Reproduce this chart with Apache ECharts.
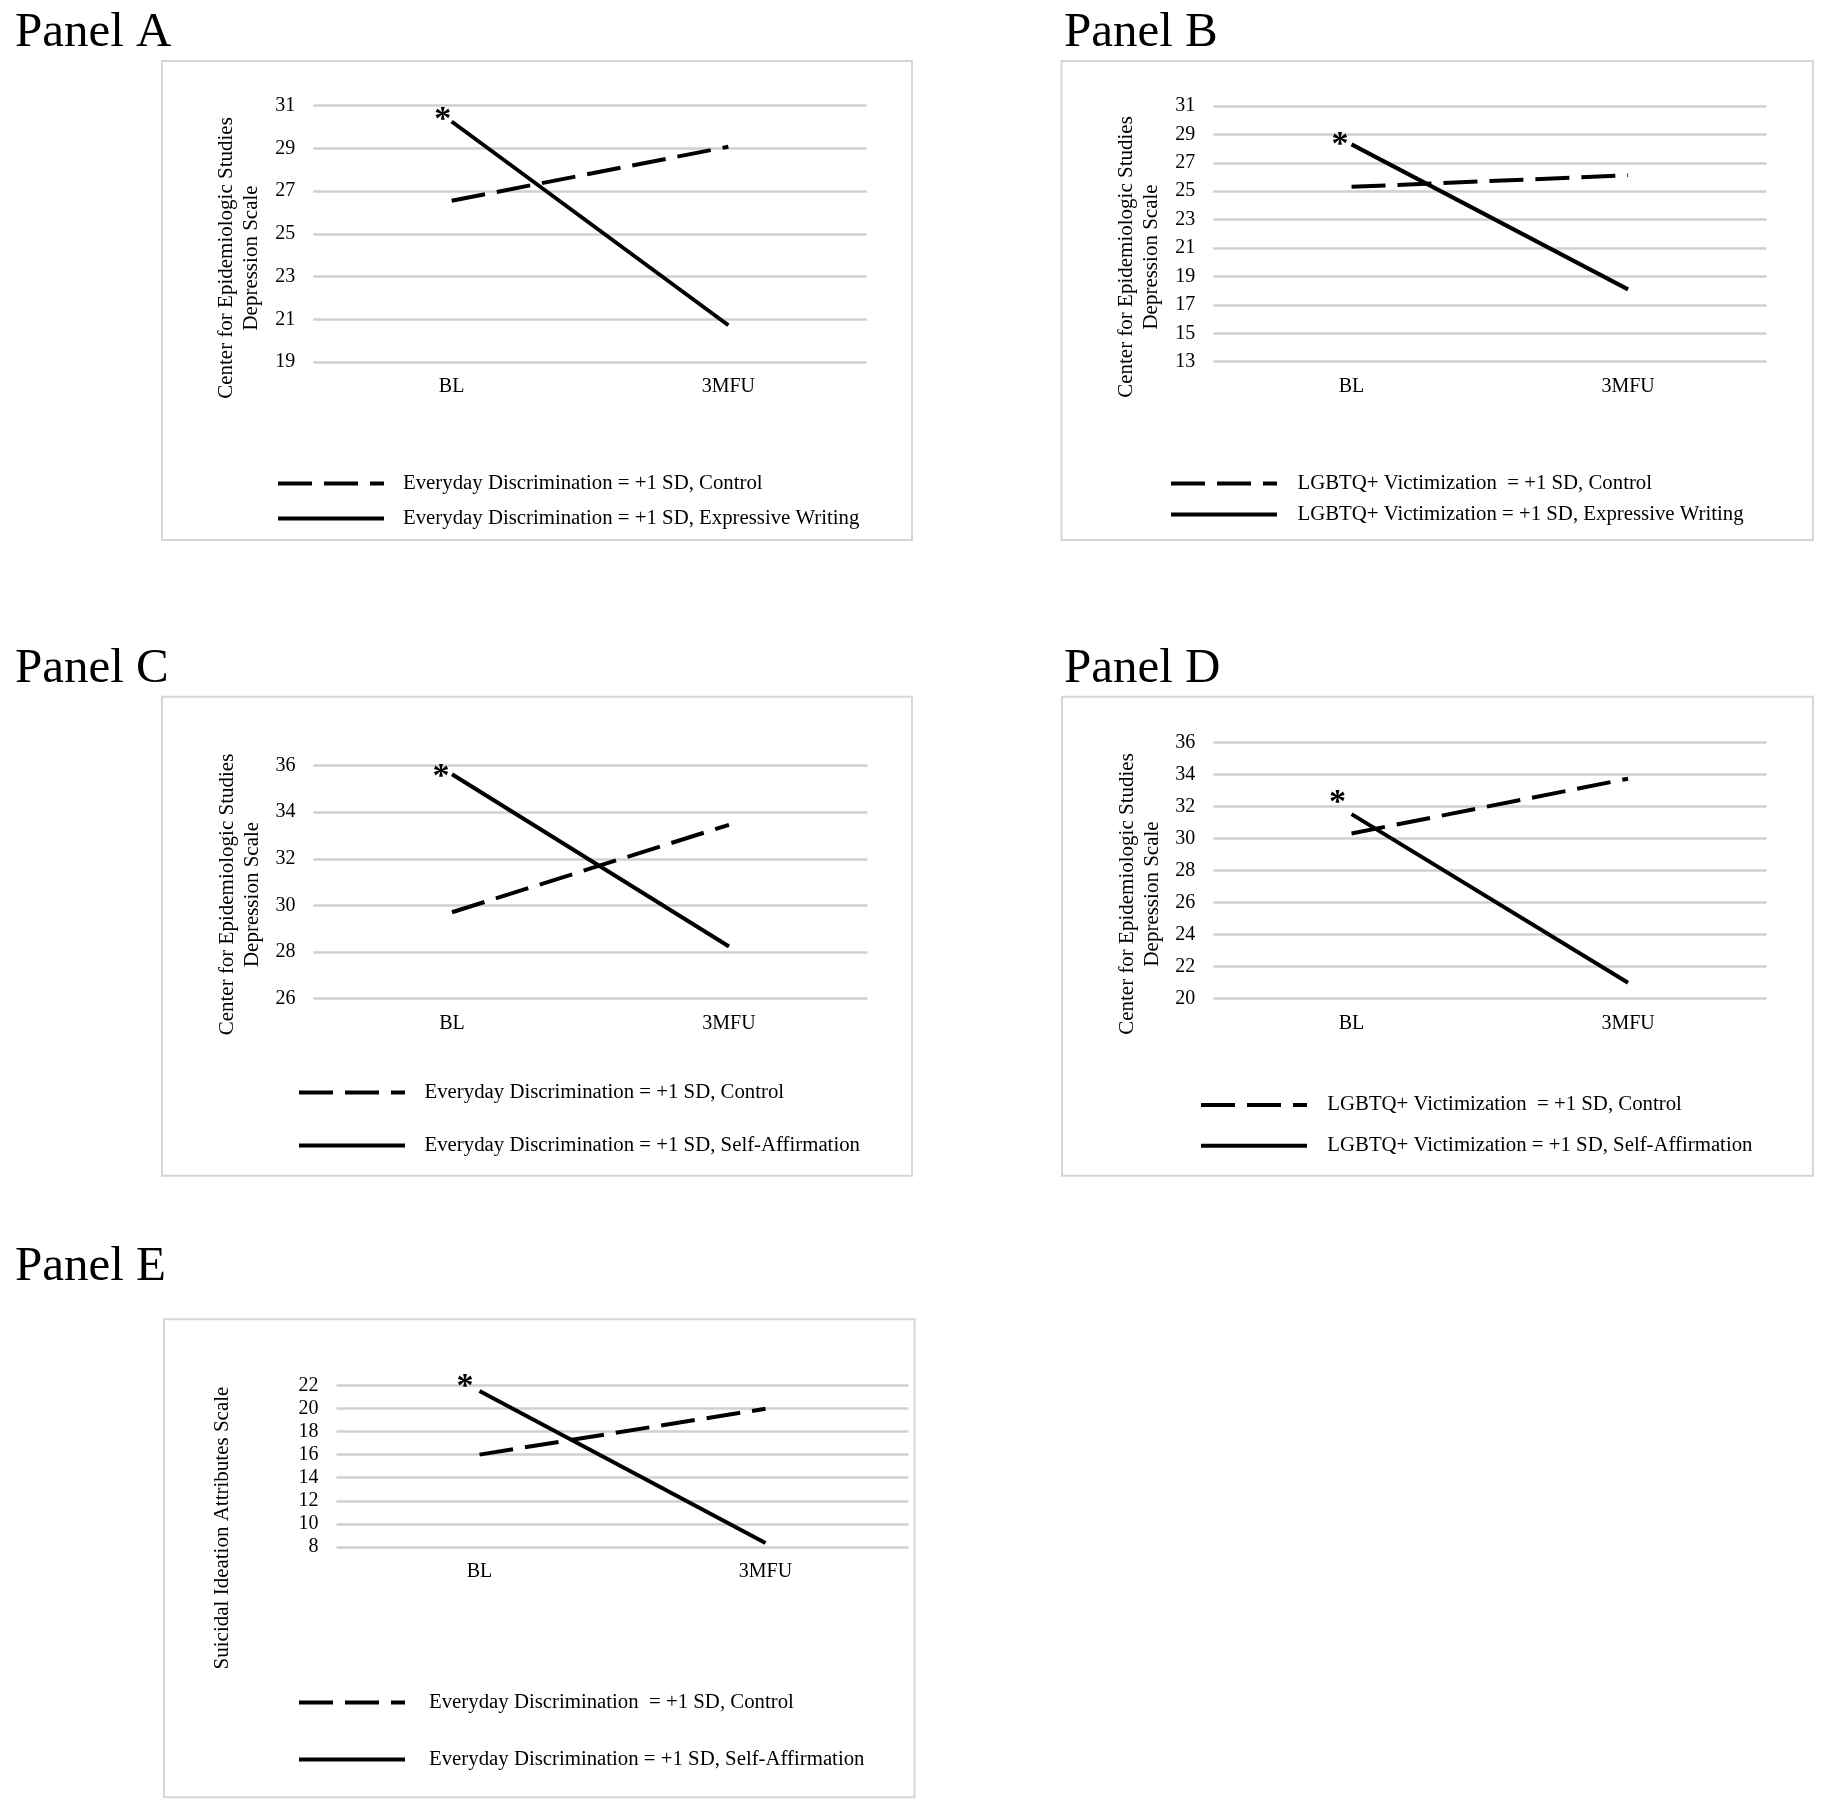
<!DOCTYPE html>
<html>
<head>
<meta charset="utf-8">
<script src="https://cdn.jsdelivr.net/npm/echarts@6/dist/echarts.min.js"></script>
<style>
html,body{margin:0;padding:0;background:#ffffff;}
#chart{width:1827px;height:1812px;}
</style>
</head>
<body>
<div id="chart"></div>
<script>
// ---------- data ----------
const categories = ['BL', '3MFU'];

const panelTitles = ['Panel A', 'Panel B', 'Panel C', 'Panel D', 'Panel E'];
const cesdTitle = 'Center for Epidemiologic Studies\nDepression Scale';
const sidasTitle = 'Suicidal Ideation Attributes Scale';

const aTicks = [19, 21, 23, 25, 27, 29, 31];
const bTicks = [13, 15, 17, 19, 21, 23, 25, 27, 29, 31];
const cTicks = [26, 28, 30, 32, 34, 36];
const dTicks = [20, 22, 24, 26, 28, 30, 32, 34, 36];
const eTicks = [8, 10, 12, 14, 16, 18, 20, 22];

const aNames = ['Everyday Discrimination = +1 SD, Control', 'Everyday Discrimination = +1 SD, Expressive Writing'];
const bNames = ['LGBTQ+ Victimization  = +1 SD, Control', 'LGBTQ+ Victimization = +1 SD, Expressive Writing'];
const cNames = ['Everyday Discrimination = +1 SD, Control', 'Everyday Discrimination = +1 SD, Self-Affirmation'];
const dNames = ['LGBTQ+ Victimization  = +1 SD, Control', 'LGBTQ+ Victimization = +1 SD, Self-Affirmation'];
const eNames = ['Everyday Discrimination  = +1 SD, Control', 'Everyday Discrimination = +1 SD, Self-Affirmation'];

const aControl = [26.55, 29.08];
const aWriting = [30.26, 20.72];
const bControl = [25.31, 26.12];
const bWriting = [28.30, 18.09];
const cControl = [29.71, 33.46];
const cAffirm  = [35.63, 28.24];
const dControl = [30.31, 33.73];
const dAffirm  = [31.52, 21.00];
const eControl = [16.00, 19.97];
const eAffirm  = [21.50, 8.34];

const starMark = '*';

// ---------- layout (positions / styles) ----------
const FONT = "'Liberation Serif', 'Times New Roman', serif";
const panels = [
  { title: panelTitles[0], titlePos: [15, 33], box: [162, 61, 750, 479],
    grid: { left: 313.3, top: 105.7, width: 553.4, height: 256.3 },
    ticks: aTicks, yTitle: cesdTitle, yTitlePos: [239.2, 258],
    names: aNames, control: aControl, treat: aWriting,
    legend: { left: 276, top: 473, gap: 14, pad: 14 }, star: [-9, -1] },
  { title: panelTitles[1], titlePos: [1064, 33], box: [1061.5, 61, 751.5, 479],
    grid: { left: 1213.3, top: 106, width: 553, height: 255.7 },
    ticks: bTicks, yTitle: cesdTitle, yTitlePos: [1139.2, 257],
    names: bNames, control: bControl, treat: bWriting,
    legend: { left: 1169, top: 473, gap: 10, pad: 15.5 }, star: [-11.5, 1] },
  { title: panelTitles[2], titlePos: [15, 669], box: [162, 696.7, 750, 479],
    grid: { left: 313.5, top: 765.6, width: 554, height: 233.1 },
    ticks: cTicks, yTitle: cesdTitle, yTitlePos: [239.5, 894.5],
    names: cNames, control: cControl, treat: cAffirm,
    legend: { left: 297, top: 1082, gap: 32, pad: 14.5 }, star: [-11, 3] },
  { title: panelTitles[3], titlePos: [1064, 669], box: [1062, 696.7, 751, 479],
    grid: { left: 1213.3, top: 742.3, width: 553, height: 256.4 },
    ticks: dTicks, yTitle: cesdTitle, yTitlePos: [1139.5, 894],
    names: dNames, control: dControl, treat: dAffirm,
    legend: { left: 1199, top: 1094.5, gap: 19.7, pad: 15.3 }, star: [-14, -11] },
  { title: panelTitles[4], titlePos: [15, 1267], box: [164, 1319.3, 750.5, 478],
    grid: { left: 336.5, top: 1385.3, width: 572, height: 161.7 },
    ticks: eTicks, yTitle: sidasTitle, yTitlePos: [222, 1528],
    names: eNames, control: eControl, treat: eAffirm,
    legend: { left: 297, top: 1692, gap: 36, pad: 19 }, star: [-14.5, -4] }
];

const option = {
  animation: false,
  backgroundColor: '#ffffff',
  grid: [], xAxis: [], yAxis: [], series: [], legend: [], graphic: []
};

panels.forEach((p, i) => {
  option.grid.push(Object.assign({ containLabel: false, outerBoundsMode: 'none' }, p.grid));
  option.xAxis.push({
    type: 'category', gridIndex: i, data: categories, boundaryGap: true,
    axisLine: { show: false }, axisTick: { show: false }, splitLine: { show: false },
    axisLabel: { margin: 15, fontSize: 20, fontFamily: FONT, color: '#000' }
  });
  option.yAxis.push({
    type: 'value', gridIndex: i,
    min: p.ticks[0], max: p.ticks[p.ticks.length - 1], interval: p.ticks[1] - p.ticks[0],
    axisLine: { show: false }, axisTick: { show: false },
    axisLabel: { margin: 18, fontSize: 20, fontFamily: FONT, color: '#000' },
    splitLine: { show: true, lineStyle: { color: '#d0d0d0', width: 2.5 } }
  });
  option.series.push({
    type: 'line', name: p.names[0], xAxisIndex: i, yAxisIndex: i,
    data: p.control, symbol: 'none', silent: true, emphasis: { disabled: true },
    lineStyle: { color: '#000', width: 4, type: [34, 12], cap: 'butt' }, z: 3
  });
  option.series.push({
    type: 'line', name: p.names[1], xAxisIndex: i, yAxisIndex: i,
    symbol: 'circle', symbolSize: 1, showSymbol: true, silent: true,
    emphasis: { disabled: true },
    itemStyle: { color: 'rgba(0,0,0,0)', borderWidth: 0 },
    data: p.treat.map((v, k) => k === 0 ? {
      value: v,
      label: { show: true, formatter: starMark, position: 'inside', offset: p.star,
               fontSize: 34, fontWeight: 'bold', fontFamily: FONT, color: '#000' }
    } : v),
    lineStyle: { color: '#000', width: 4, type: 'solid', cap: 'butt' }, z: 4
  });
  option.legend.push({
    data: p.names, orient: 'vertical', left: p.legend.left, top: p.legend.top,
    padding: 0, itemGap: p.legend.gap, itemWidth: 106, itemHeight: 20,
    selectedMode: false,
    textStyle: { fontFamily: FONT, fontSize: 20.8, color: '#000', lineHeight: 20,
                 padding: [0, 0, 0, p.legend.pad] },
    lineStyle: { width: 4 },
    itemStyle: { color: 'rgba(0,0,0,0)', borderWidth: 0, opacity: 0 }
  });
  option.graphic.push({
    type: 'rect', silent: true, z: 0,
    shape: { x: p.box[0], y: p.box[1], width: p.box[2], height: p.box[3] },
    style: { fill: 'none', stroke: '#d6d6d6', lineWidth: 2 }
  });
  option.graphic.push({
    type: 'text', silent: true, x: p.titlePos[0], y: p.titlePos[1],
    style: { text: p.title, fontSize: 49, fontFamily: FONT, fill: '#000',
             align: 'left', verticalAlign: 'middle' }
  });
  option.graphic.push({
    type: 'text', silent: true, x: p.yTitlePos[0], y: p.yTitlePos[1], rotation: Math.PI / 2,
    style: { text: p.yTitle, fontSize: 21, fontFamily: FONT, fill: '#000',
             align: 'center', verticalAlign: 'middle', lineHeight: 25 }
  });
});

const chart = echarts.init(document.getElementById('chart'), null, { renderer: 'canvas' });
chart.setOption(option);
</script>
</body>
</html>
